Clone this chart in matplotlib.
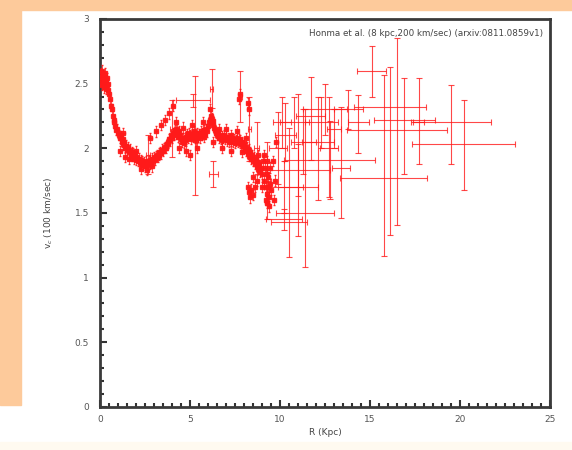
import matplotlib
matplotlib.use("Agg")
import matplotlib.pyplot as plt
from matplotlib.patches import Rectangle
from matplotlib.ticker import MultipleLocator

# ---------------- data ----------------
# dense inner rotation-curve points (R in kpc, v in 100 km/s)
inner_R = [0.02, 0.05, 0.08, 0.1, 0.12, 0.15, 0.18, 0.2, 0.22, 0.25, 0.28, 0.3, 0.33, 0.35, 0.38, 0.4, 0.43, 0.46, 0.5,
           0.55, 0.6, 0.65, 0.7, 0.75, 0.8, 0.85, 0.9, 0.95, 1.0, 1.05, 1.1, 1.15, 1.2, 1.25, 1.3, 1.35, 1.4, 1.45, 1.5,
           1.55, 1.6, 1.65, 1.7, 1.75, 1.8, 1.85, 1.9, 1.95, 2.0, 2.05, 2.1, 2.15, 2.2, 2.25, 2.3, 2.35, 2.4, 2.45, 2.5,
           2.55, 2.6, 2.65, 2.7, 2.75, 2.8, 2.85, 2.9, 2.95, 3.0,
           1.3, 1.6, 2.0, 2.3, 2.6, 2.9, 1.1, 1.4,
           3.05, 3.1, 3.15, 3.2, 3.25, 3.3, 3.35, 3.4, 3.45, 3.5, 3.55, 3.6, 3.65, 3.7, 3.75, 3.8, 3.85, 3.9, 3.95, 4.0,
           2.8, 3.1, 3.4, 3.6, 3.85, 4.05,
           4.05, 4.1, 4.15, 4.2, 4.25, 4.3, 4.35, 4.4, 4.45, 4.5, 4.55, 4.6, 4.65, 4.7, 4.75, 4.8, 4.85, 4.9, 4.95, 5.0,
           5.05, 5.1, 5.15, 5.2, 5.25, 5.3, 5.35, 5.4, 5.45, 5.5, 5.55, 5.6, 5.65, 5.7, 5.75, 5.8, 5.85, 5.9, 5.95, 6.0,
           4.2, 4.4, 4.8, 5.1, 5.4, 5.7, 4.6, 5.0,
           6.05, 6.1, 6.15, 6.2, 6.25, 6.3, 6.35, 6.4, 6.45, 6.5, 6.55, 6.6, 6.65, 6.7, 6.75, 6.8, 6.85, 6.9, 6.95, 7.0,
           7.05, 7.1, 7.15, 7.2, 7.25, 7.3, 7.35, 7.4, 7.45, 7.5, 7.55, 7.6, 7.65, 7.7, 7.75, 7.8, 7.85, 7.9, 7.95, 8.0,
           6.1, 6.3, 6.6, 7.0, 7.3, 7.6, 7.9, 6.8,
           8.05, 8.1, 8.15, 8.2, 8.25, 8.3, 8.35, 8.4, 8.45, 8.5, 8.55, 8.6, 8.65, 8.7, 8.75, 8.8, 8.85, 8.9, 8.95, 9.0,
           9.05, 9.1, 9.15, 9.2, 9.25, 9.3, 9.35, 9.4, 9.45, 9.5, 9.1, 9.2, 9.3, 9.4, 9.25, 9.35, 9.45, 9.0,
           8.2, 8.3, 8.4, 8.5, 8.6, 8.35, 8.5, 8.7, 8.8, 8.1,
           9.6, 9.7, 9.8, 9.65, 7.7, 7.75, 8.2, 8.25]
inner_v = [2.52, 2.58, 2.49, 2.55, 2.60, 2.50, 2.56, 2.47, 2.53, 2.58, 2.50, 2.55, 2.46, 2.52, 2.49, 2.54, 2.45, 2.50, 2.42,
           2.38, 2.33, 2.30, 2.25, 2.22, 2.20, 2.17, 2.14, 2.15, 2.12, 2.10, 2.08, 2.09, 2.05, 2.07, 2.03, 2.04, 2.00, 2.02, 1.99,
           2.01, 1.97, 1.99, 1.95, 1.97, 1.94, 1.96, 1.92, 1.94, 1.91, 1.93, 1.90, 1.92, 1.89, 1.91, 1.88, 1.90, 1.87, 1.89, 1.86,
           1.90, 1.88, 1.87, 1.90, 1.88, 1.91, 1.89, 1.92, 1.90, 1.93,
           2.12, 1.92, 1.98, 1.84, 1.83, 1.86, 1.98, 1.93,
           1.91, 1.94, 1.95, 1.93, 1.96, 1.95, 1.97, 1.96, 1.99, 1.98, 2.00, 2.01, 2.00, 2.03, 2.05, 2.04, 2.07, 2.06, 2.10, 2.08,
           2.08, 2.13, 2.18, 2.22, 2.27, 2.33,
           2.12, 2.10, 2.14, 2.11, 2.15, 2.12, 2.09, 2.13, 2.10, 2.07, 2.05, 2.08, 2.04, 2.06, 2.09, 2.07, 2.11, 2.08, 2.12, 2.10,
           2.07, 2.11, 2.09, 2.13, 2.08, 2.10, 2.06, 2.12, 2.09, 2.11, 2.08, 2.13, 2.10, 2.12, 2.09, 2.14, 2.11, 2.15, 2.13, 2.17,
           2.20, 2.00, 1.98, 2.18, 2.00, 2.20, 2.16, 1.95,
           2.20, 2.22, 2.25, 2.23, 2.21, 2.18, 2.16, 2.14, 2.12, 2.10, 2.11, 2.08, 2.10, 2.07, 2.09, 2.06, 2.08, 2.10, 2.07, 2.09,
           2.06, 2.08, 2.05, 2.07, 2.10, 2.06, 2.08, 2.05, 2.07, 2.04, 2.06, 2.08, 2.05, 2.07, 2.04, 2.06, 2.03, 2.05, 2.02, 2.04,
           2.30, 2.05, 2.15, 2.15, 1.98, 2.13, 1.97, 2.00,
           2.00, 1.98, 2.01, 1.96, 1.99, 1.94, 1.97, 1.92, 1.95, 1.90, 1.93, 1.88, 1.91, 1.86, 1.89, 1.84, 1.87, 1.82, 1.85, 1.80,
           1.90, 1.75, 1.85, 1.70, 1.80, 1.65, 1.78, 1.62, 1.72, 1.68, 1.95, 1.60, 1.90, 1.55, 1.58, 1.70, 1.85, 1.70,
           1.70, 1.66, 1.68, 1.64, 1.70, 1.62, 1.78, 1.75, 1.95, 2.08,
           1.90, 1.75, 2.05, 1.60, 2.38, 2.42, 2.35, 2.30]

# individual points with larger error bars: R, v, xerr, lower yerr, upper yerr
big_R = [5.3, 5.15, 6.2, 6.3, 7.8, 4.0, 2.65, 8.3, 8.7, 9.3,
         11.4, 10.5, 11.0, 11.7, 12.1, 12.7, 13.0, 13.4, 14.35, 15.1,
         15.75, 16.1, 16.5, 16.9, 17.7, 19.5, 20.2, 12.75, 11.0, 10.2,
         10.3, 10.8, 11.3, 12.3, 12.5, 13.8, 9.9, 10.1, 10.2]
big_v = [2.10, 2.37, 2.46, 1.80, 2.40, 2.15, 1.95, 2.15, 2.00, 1.75,
         1.50, 1.43, 1.70, 2.25, 2.05, 2.00, 2.15, 1.85, 2.20, 2.60,
         1.77, 2.32, 2.14, 2.22, 2.20, 2.20, 2.03, 1.91, 1.83, 1.70,
         2.10, 2.20, 2.05, 2.20, 2.30, 2.30, 2.00, 2.20, 1.45]
big_xerr = [0.10, 0.95, 0.10, 0.25, 0.10, 0.10, 0.10, 0.10, 0.15, 0.20,
            1.60, 1.00, 1.10, 0.80, 0.90, 0.50, 0.40, 0.50, 0.60, 0.80,
            2.40, 2.00, 2.80, 1.70, 0.30, 2.20, 2.85, 2.55, 1.80, 1.10,
            0.60, 0.80, 0.70, 0.90, 1.20, 0.80, 0.50, 0.50, 1.00]
big_ylo = [0.46, 0.05, 0.15, 0.10, 0.20, 0.22, 0.15, 0.25, 0.20, 0.30,
           0.42, 0.27, 0.38, 0.34, 0.45, 0.38, 0.15, 0.39, 0.24, 0.20,
           0.60, 0.99, 0.73, 0.42, 0.32, 0.32, 0.35, 0.30, 0.20, 0.20,
           0.20, 0.20, 0.25, 0.20, 0.20, 0.15, 0.28, 0.20, 0.08]
big_yhi = [0.46, 0.05, 0.15, 0.10, 0.20, 0.22, 0.15, 0.25, 0.20, 0.30,
           0.80, 0.73, 0.72, 0.30, 0.35, 0.40, 0.15, 0.47, 0.21, 0.19,
           0.80, 0.31, 0.71, 0.32, 0.34, 0.29, 0.34, 0.30, 0.20, 0.20,
           0.25, 0.20, 0.25, 0.20, 0.20, 0.15, 0.28, 0.20, 0.08]

x_ticks = [0, 5, 10, 15, 20, 25]
y_ticks = [0, 0.5, 1, 1.5, 2, 2.5, 3]
y_ticklabels = ["0", "0.5", "1", "1.5", "2", "2.5", "3"]

# ---------------- figure ----------------
fig = plt.figure(figsize=(5.72, 4.5), dpi=100)
fig.patch.set_facecolor("white")
orange = "#fdca9b"
fig.patches.append(Rectangle((0, 0.978), 1, 0.022, transform=fig.transFigure, color=orange, zorder=0))
fig.patches.append(Rectangle((0, 0.10), 0.037, 0.90, transform=fig.transFigure, color=orange, zorder=0))
fig.patches.append(Rectangle((0, 0), 1, 0.018, transform=fig.transFigure, color="#fffaf0", zorder=0))

ax = fig.add_axes([0.175, 0.0956, 0.7865, 0.8624])
ax.set_xlim(0, 25)
ax.set_ylim(0, 3)

red = "#ff1a1a"
ax.errorbar(big_R, big_v, xerr=big_xerr, yerr=[big_ylo, big_yhi], fmt="none",
            ecolor=red, elinewidth=0.8, capsize=2.0, capthick=0.8, alpha=0.8, zorder=2)
ax.errorbar(inner_R, inner_v, xerr=0.06, yerr=0.04, fmt="s", ms=2.2, color=red,
            mec=red, ecolor=red, elinewidth=0.6, capsize=1.0, alpha=0.9, zorder=3)

for s in ax.spines.values():
    s.set_linewidth(2.0)
    s.set_color("#3a3a3a")

ax.set_xticks(x_ticks)
ax.set_yticks(y_ticks)
ax.set_yticklabels(y_ticklabels)
ax.xaxis.set_minor_locator(MultipleLocator(0.5))
ax.yaxis.set_minor_locator(MultipleLocator(0.1))
ax.tick_params(which="both", direction="in", top=False, right=False,
               colors="#333333", labelcolor="#555555", labelsize=6.5, width=1.5)
ax.tick_params(which="major", length=5)
ax.tick_params(which="minor", length=3)
ax.tick_params(axis="x", pad=6)
ax.tick_params(axis="y", pad=8)

ax.set_xlabel("R (Kpc)", fontsize=6.5, color="#444444", labelpad=3)
ax.set_ylabel("v$_c$ (100 km/sec)", fontsize=6.5, color="#444444", labelpad=14)

ax.text(0.985, 0.975, "Honma et al. (8 kpc,200 km/sec) (arxiv:0811.0859v1)",
        transform=ax.transAxes, ha="right", va="top", fontsize=6.3, color="#444444")

fig.savefig("out.png", dpi=100, facecolor=fig.get_facecolor())
